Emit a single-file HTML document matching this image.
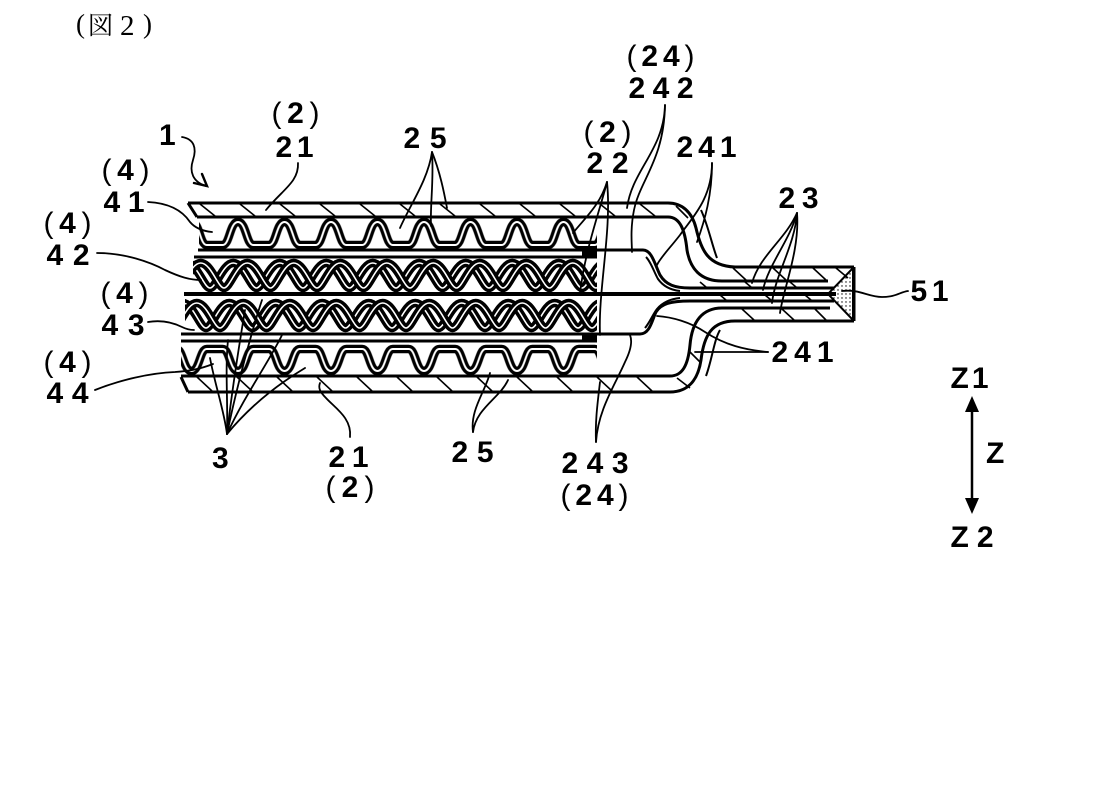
<!DOCTYPE html>
<html><head><meta charset="utf-8"><style>
html,body{margin:0;padding:0;background:#fff;}
svg{display:block;}
text{font-family:"Liberation Sans",sans-serif;font-weight:700;font-size:30px;fill:#000;}
</style></head><body>
<svg width="1102" height="787" viewBox="0 0 1102 787" xmlns="http://www.w3.org/2000/svg">
<defs>
<pattern id="p41" patternUnits="userSpaceOnUse" x="214.75" y="217" width="46.5" height="34">
<path d="M-3,28 L8,28 C15,28 15,5 23.25,5 C31.5,5 31.5,28 38.5,28 L49.5,28" fill="none" stroke="#000" stroke-width="8.5"/>
<path d="M-3,28 L8,28 C15,28 15,5 23.25,5 C31.5,5 31.5,28 38.5,28 L49.5,28" fill="none" stroke="#fff" stroke-width="2"/>
</pattern>
<pattern id="p44" patternUnits="userSpaceOnUse" x="214.75" y="342" width="46.5" height="36">
<path d="M-3,7 L8,7 C15,7 15,29 23.25,29 C31.5,29 31.5,7 38.5,7 L49.5,7" fill="none" stroke="#000" stroke-width="8.5"/>
<path d="M-3,7 L8,7 C15,7 15,29 23.25,29 C31.5,29 31.5,7 38.5,7 L49.5,7" fill="none" stroke="#fff" stroke-width="2"/>
</pattern>
<pattern id="p42" patternUnits="userSpaceOnUse" x="210" y="257" width="46.5" height="38">
<g fill="none">
<path d="M-23.25,6 C-13,6 -6,31 0,31 C6,31 13,6 23.25,6 C33.5,6 40.5,31 46.5,31 C52.5,31 59.5,6 69.75,6" stroke="#000" stroke-width="8.5"/>
<path d="M-23.25,6 C-13,6 -6,31 0,31 C6,31 13,6 23.25,6 C33.5,6 40.5,31 46.5,31 C52.5,31 59.5,6 69.75,6" stroke="#fff" stroke-width="1.6"/>
<g transform="translate(14,0)">
<path d="M-46.5,31 C-40.5,31 -33.5,6 -23.25,6 C-13,6 -6,31 0,31 C6,31 13,6 23.25,6 C33.5,6 40.5,31 46.5,31 C52.5,31 59.5,6 69.75,6" stroke="#000" stroke-width="8.5"/>
<path d="M-46.5,31 C-40.5,31 -33.5,6 -23.25,6 C-13,6 -6,31 0,31 C6,31 13,6 23.25,6 C33.5,6 40.5,31 46.5,31 C52.5,31 59.5,6 69.75,6" stroke="#fff" stroke-width="1.6"/>
</g></g>
</pattern>
<pattern id="p43" patternUnits="userSpaceOnUse" x="206" y="297" width="46.5" height="38">
<g fill="none">
<path d="M-23.25,6 C-13,6 -6,31 0,31 C6,31 13,6 23.25,6 C33.5,6 40.5,31 46.5,31 C52.5,31 59.5,6 69.75,6" stroke="#000" stroke-width="8.5"/>
<path d="M-23.25,6 C-13,6 -6,31 0,31 C6,31 13,6 23.25,6 C33.5,6 40.5,31 46.5,31 C52.5,31 59.5,6 69.75,6" stroke="#fff" stroke-width="1.6"/>
<g transform="translate(14,0)">
<path d="M-46.5,31 C-40.5,31 -33.5,6 -23.25,6 C-13,6 -6,31 0,31 C6,31 13,6 23.25,6 C33.5,6 40.5,31 46.5,31 C52.5,31 59.5,6 69.75,6" stroke="#000" stroke-width="8.5"/>
<path d="M-46.5,31 C-40.5,31 -33.5,6 -23.25,6 C-13,6 -6,31 0,31 C6,31 13,6 23.25,6 C33.5,6 40.5,31 46.5,31 C52.5,31 59.5,6 69.75,6" stroke="#fff" stroke-width="1.6"/>
</g></g>
</pattern>
<pattern id="dots" patternUnits="userSpaceOnUse" width="4" height="4">
<circle cx="2" cy="2" r="0.7" fill="#000"/>
</pattern>
</defs>

<!-- title -->
<text x="76" y="33" style="font-family:'Liberation Serif',serif;font-weight:400;font-size:27px">(</text>
<text x="88" y="34" style="font-family:'Liberation Serif','Noto Serif CJK JP',serif;font-weight:400;font-size:25px">図</text>
<text x="120" y="35" style="font-family:'Liberation Serif',serif;font-weight:400;font-size:29px">2</text>
<text x="143" y="33" style="font-family:'Liberation Serif',serif;font-weight:400;font-size:27px">)</text>

<!-- wave layers -->
<rect x="199" y="217" width="398" height="34" fill="url(#p41)"/>
<rect x="193" y="257" width="404" height="38" fill="url(#p42)"/>
<rect x="185" y="296" width="412" height="38" fill="url(#p43)"/>
<rect x="181" y="341" width="416" height="36" fill="url(#p44)"/>

<!-- main structure -->
<g fill="none" stroke="#000" stroke-width="3" stroke-linejoin="round">
<path d="M188,203 L668,203 C682,203 692,212 696,228 C701,250 708,266 735,267 L854,267"/>
<path d="M197,217 L668,217 C680,217 685,230 687,250 C690,268 700,281 722,281 L828,281"/>
<path d="M198,250 L643,250 C652,250 655,265 660,275 C666,285 675,288 690,288 L834,288"/>
<path d="M194,257 L597,257"/>
<path d="M646,257 C651,262 654,272 658,279 C663,286 670,290 680,291" stroke-width="2"/>
<path d="M184,294 L836,294" stroke-width="4"/>
<path d="M181,341 L597,341"/>
<path d="M181,334 L640,334 C650,334 652,320 656,312 C661,304 670,301 690,301 L834,301"/>
<path d="M645,328 C650,322 653,314 657,309 C662,303 670,299 680,298" stroke-width="2"/>
<path d="M181,376 L670,376 C682,376 688,366 690,345 C692,322 702,308 722,308 L830,308"/>
<path d="M188,392 L670,392 C688,392 698,380 701,360 C704,335 712,321 735,321 L854,321"/>
<path d="M854,267 L854,321"/>
<path d="M188,203 L197,217"/>
<path d="M181,377 L188,392"/>
<path d="M701,210 C708,225 712,245 717,258" stroke-width="2"/>
<path d="M706,376 C712,360 714,340 720,330" stroke-width="2"/>
</g>
<!-- 22 plate ends -->
<rect x="582" y="249" width="15" height="9" fill="#000"/>
<rect x="582" y="333" width="15" height="9" fill="#000"/>

<!-- hatching -->
<g stroke="#000" stroke-width="1.6">
<path d="M200,204 L215,216 M240,204 L255,216 M280,204 L295,216 M320,204 L335,216 M360,204 L375,216 M400,204 L415,216 M440,204 L455,216 M480,204 L495,216 M520,204 L535,216 M560,204 L575,216 M600,204 L615,216 M640,204 L655,216 M676,206 L688,218"/>
<path d="M197,377 L212,391 M237,377 L252,391 M277,377 L292,391 M317,377 L332,391 M357,377 L372,391 M397,377 L412,391 M437,377 L452,391 M477,377 L492,391 M517,377 L532,391 M557,377 L572,391 M597,377 L612,391 M637,377 L652,391 M677,378 L690,388 M690,352 L700,362"/>
<path d="M733,268 L746,280 M773,268 L786,280 M813,268 L826,280 M836,268 L848,278"/>
<path d="M742,309 L754,320 M782,309 L794,320 M815,309 L826,320"/>
<path d="M700,282 L706,287 M745,282 L751,287 M790,282 L796,287 M720,295 L726,300 M765,295 L771,300 M805,295 L811,300"/>
</g>

<!-- tip -->
<polygon points="828,294 853,268 853,320" fill="url(#dots)" stroke="#000" stroke-width="2"/>

<!-- leaders -->
<g fill="none" stroke="#000" stroke-width="1.8" stroke-linecap="round">
<path d="M182,137 C194,139 197,148 193,160 C189,172 193,182 206,186"/>
<polyline points="194,183 207,186 202,174" stroke-width="2.4"/>
<path d="M298,163 C299,182 282,190 266,210"/>
<path d="M432,152 C428,180 410,205 400,228"/>
<path d="M432,152 C434,180 430,205 431,226"/>
<path d="M432,152 C440,172 444,192 447,208"/>
<path d="M607,182 C600,205 585,218 573,233"/>
<path d="M607,182 C600,210 585,250 580,293"/>
<path d="M607,182 C612,230 598,290 600,335"/>
<path d="M665,105 C664,150 632,170 627,208"/>
<path d="M665,105 C664,160 640,180 634,210 C630,230 632,245 632,252"/>
<path d="M712,163 C712,200 690,220 680,235 C670,248 660,258 657,265"/>
<path d="M712,163 C712,195 705,220 697,242"/>
<path d="M797,213 C785,240 760,255 752,283"/>
<path d="M797,213 C790,240 768,265 763,290"/>
<path d="M797,213 C795,245 775,275 772,303"/>
<path d="M797,213 C800,250 783,290 780,313"/>
<path d="M842,291 C860,289 868,297 882,297 C896,297 900,292 908,291"/>
<path d="M768,352 C745,350 725,345 705,332 C690,322 672,317 657,316"/>
<path d="M768,352 C745,352 720,352 695,352"/>
<path d="M148,202 C168,203 182,210 190,222 C195,228 202,231 212,232"/>
<path d="M97,253 C125,253 150,262 165,270 C180,277 190,280 201,280"/>
<path d="M148,322 C160,320 172,322 182,327 C186,329 190,330 194,330"/>
<path d="M95,390 C120,380 150,373 175,372 C190,371 200,369 213,364"/>
<path d="M227,434 C224,410 215,385 210,358"/>
<path d="M227,434 C228,400 225,370 228,340"/>
<path d="M227,434 C232,390 240,340 245,310"/>
<path d="M227,434 C236,390 252,330 262,300"/>
<path d="M227,434 C245,395 270,360 282,335"/>
<path d="M227,434 C255,400 285,380 305,368"/>
<path d="M350,437 C352,418 335,408 326,398 C320,392 318,388 320,383"/>
<path d="M473,432 C470,410 485,392 490,373"/>
<path d="M473,432 C476,408 500,398 508,380"/>
<path d="M596,442 C595,420 598,400 600,382"/>
<path d="M596,442 C598,410 615,385 625,362 C632,348 632,340 630,335"/>
</g>

<!-- Z arrow -->
<line x1="972" y1="408" x2="972" y2="503" stroke="#000" stroke-width="2.5"/>
<polygon points="972,396 965,412 979,412" fill="#000"/>
<polygon points="972,514 965,498 979,498" fill="#000"/>

<!-- labels -->
<text x="271.5" y="123" textLength="48" lengthAdjust="spacing"><tspan font-weight="400">(</tspan>2<tspan font-weight="400">)</tspan></text>
<text x="275.5" y="157" textLength="38" lengthAdjust="spacing">21</text>
<text x="403.5" y="148" textLength="43" lengthAdjust="spacing">25</text>
<text x="159" y="145">1</text>
<text x="626.5" y="66" textLength="68" lengthAdjust="spacing"><tspan font-weight="400">(</tspan>24<tspan font-weight="400">)</tspan></text>
<text x="628.5" y="98" textLength="65" lengthAdjust="spacing">242</text>
<text x="583.5" y="142" textLength="48" lengthAdjust="spacing"><tspan font-weight="400">(</tspan>2<tspan font-weight="400">)</tspan></text>
<text x="586.5" y="173" textLength="42" lengthAdjust="spacing">22</text>
<text x="676.5" y="157" textLength="60" lengthAdjust="spacing">241</text>
<text x="778.5" y="208" textLength="40" lengthAdjust="spacing">23</text>
<text x="101.5" y="180" textLength="48" lengthAdjust="spacing"><tspan font-weight="400">(</tspan>4<tspan font-weight="400">)</tspan></text>
<text x="103.5" y="212" textLength="41" lengthAdjust="spacing">41</text>
<text x="43.5" y="233" textLength="48" lengthAdjust="spacing"><tspan font-weight="400">(</tspan>4<tspan font-weight="400">)</tspan></text>
<text x="46.5" y="265" textLength="43" lengthAdjust="spacing">42</text>
<text x="100.5" y="303" textLength="48" lengthAdjust="spacing"><tspan font-weight="400">(</tspan>4<tspan font-weight="400">)</tspan></text>
<text x="101.5" y="335" textLength="43" lengthAdjust="spacing">43</text>
<text x="43.5" y="372" textLength="48" lengthAdjust="spacing"><tspan font-weight="400">(</tspan>4<tspan font-weight="400">)</tspan></text>
<text x="46.5" y="403" textLength="42" lengthAdjust="spacing">44</text>
<text x="910.5" y="301" textLength="38" lengthAdjust="spacing">51</text>
<text x="771.5" y="362" textLength="62" lengthAdjust="spacing">241</text>
<text x="950.5" y="388" textLength="38" lengthAdjust="spacing">Z1</text>
<text x="986" y="463">Z</text>
<text x="950.5" y="547" textLength="43" lengthAdjust="spacing">Z2</text>
<text x="212" y="468">3</text>
<text x="328.5" y="467" textLength="40" lengthAdjust="spacing">21</text>
<text x="325.5" y="497" textLength="49" lengthAdjust="spacing"><tspan font-weight="400">(</tspan>2<tspan font-weight="400">)</tspan></text>
<text x="451.5" y="462" textLength="42" lengthAdjust="spacing">25</text>
<text x="561.5" y="473" textLength="67" lengthAdjust="spacing">243</text>
<text x="560.5" y="505" textLength="68" lengthAdjust="spacing"><tspan font-weight="400">(</tspan>24<tspan font-weight="400">)</tspan></text>
</svg>
</body></html>
